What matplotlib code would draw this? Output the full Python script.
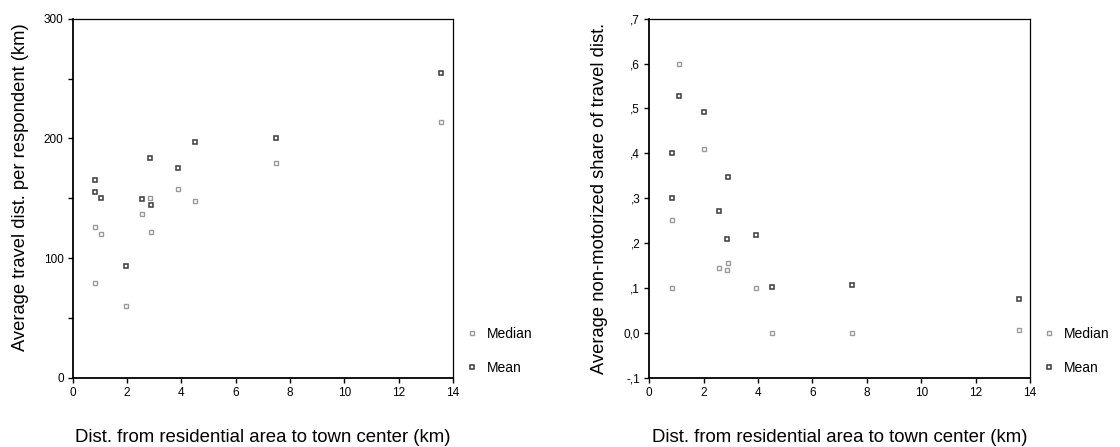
import numpy as np
import matplotlib.pyplot as plt
from matplotlib.ticker import FixedLocator, FixedFormatter, MultipleLocator

plt.rcParams['font.family'] = ['Liberation Sans', 'DejaVu Sans']

# left panel: average travel distance per respondent (km)
dist_left = [0.83, 0.83, 1.05, 1.95, 2.55, 2.83, 2.89, 3.89, 4.5, 7.5, 13.55]
travel_mean = [165, 155, 150, 93, 149, 184, 144, 175, 197, 200, 255]
travel_median = [79, 126, 120, 60, 137, 150, 122, 158, 148, 179, 214]

# right panel: non-motorized share of travel distance
dist_right = [0.85, 0.85, 1.08, 2.0, 2.55, 2.84, 2.9, 3.92, 4.5, 7.45, 13.58]
share_mean = [0.40, 0.30, 0.527, 0.493, 0.272, 0.21, 0.348, 0.217, 0.103, 0.107, 0.075]
share_median = [0.10, 0.251, 0.60, 0.41, 0.144, 0.141, 0.155, 0.10, 0.0, 0.0, 0.006]

share_ticks = [-0.1, 0.0, 0.1, 0.2, 0.3, 0.4, 0.5, 0.6, 0.7]
share_labels = ['-,1', '0,0', ',1', ',2', ',3', ',4', ',5', ',6', ',7']

xlabel = 'Dist. from residential area to town center (km)'
median_col = '#9a9a9a'
mean_col = '#3a3a3a'

fig = plt.figure(figsize=(11.2, 4.47), dpi=100)
ax1 = fig.add_axes([72.7 / 1120, 1 - 377.7 / 447, 380.3 / 1120, 359 / 447])
ax2 = fig.add_axes([649.3 / 1120, 1 - 377.7 / 447, 380.7 / 1120, 359 / 447])


def style(ax):
    for side in ['left', 'bottom']:
        ax.spines[side].set_linewidth(1.3)
    for side in ['top', 'right']:
        ax.spines[side].set_linewidth(0.9)
    ax.tick_params(direction='out', length=3.5, width=1, labelsize=8.5, pad=3)
    ax.set_xlim(0, 14)
    ax.xaxis.set_major_locator(MultipleLocator(2))
    ax.set_xlabel(xlabel, fontsize=13.4, labelpad=22)


def scatter(ax, x, med, mean):
    ax.plot(x, med, ls='none', marker='s', ms=3.5, mfc='white', mec=median_col, mew=1.0,
            label='Median', clip_on=False)
    ax.plot(x, mean, ls='none', marker='s', ms=3.5, mfc='white', mec=mean_col, mew=1.1,
            label='Mean', clip_on=False)
    ax.legend(loc='lower left', bbox_to_anchor=(1.01, -0.02), frameon=False, fontsize=10,
              handlelength=0.8, handletextpad=0.7, labelspacing=1.45, borderpad=0.2)


scatter(ax1, dist_left, travel_median, travel_mean)
style(ax1)
ax1.set_ylim(0, 300)
ax1.yaxis.set_major_locator(FixedLocator([0, 50, 100, 150, 200, 250, 300]))
ax1.yaxis.set_major_formatter(FixedFormatter(['0', '', '100', '', '200', '', '300']))
ax1.set_ylabel('Average travel dist. per respondent (km)', fontsize=13.2, labelpad=11)
ax1.yaxis.label.set_y(0.531)

scatter(ax2, dist_right, share_median, share_mean)
style(ax2)
ax2.set_ylim(-0.1, 0.7)
ax2.yaxis.set_major_locator(FixedLocator(share_ticks))
ax2.yaxis.set_major_formatter(FixedFormatter(share_labels))
ax2.set_ylabel('Average non-motorized share of travel dist.', fontsize=13.2, labelpad=11)

fig.savefig('out.png', dpi=100)
